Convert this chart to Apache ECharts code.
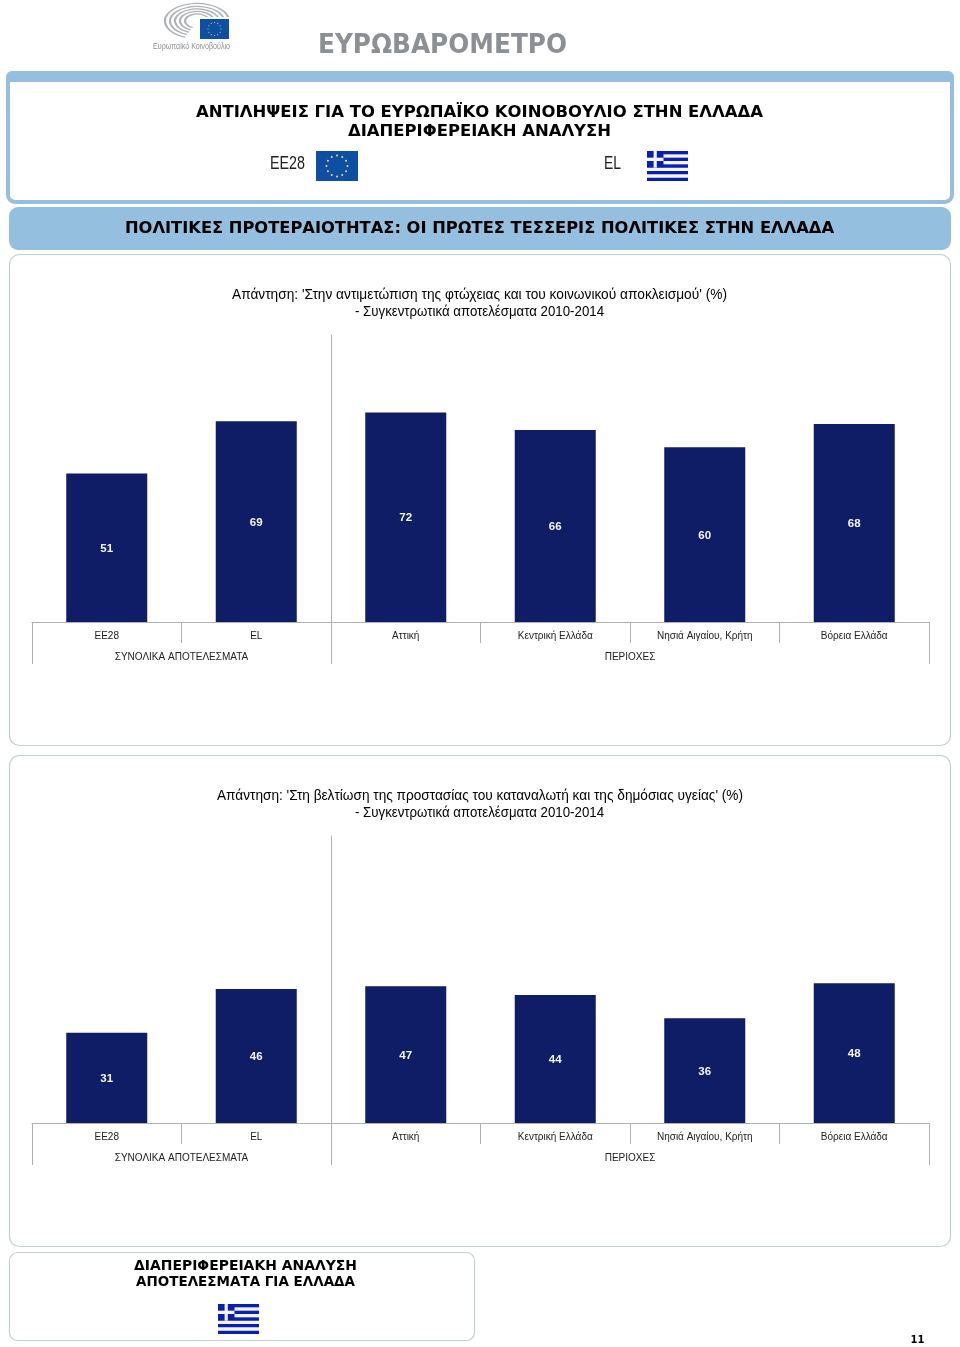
<!DOCTYPE html>
<html><head><meta charset="utf-8">
<style>html,body{margin:0;padding:0;background:#fff}#c{width:960px;height:1347px}</style>
<script src="https://cdn.jsdelivr.net/npm/echarts@6/dist/echarts.min.js"></script>
</head><body><div id="c"></div>
<script>
const categories = ['EE28','EL','Αττική','Κεντρική Ελλάδα','Νησιά Αιγαίου, Κρήτη','Βόρεια Ελλάδα'];
const povertyValues = [51,69,72,66,60,68];
const consumerValues = [31,46,47,44,36,48];
const groupLabels = {1:'ΣΥΝΟΛΙΚΑ ΑΠΟΤΕΛΕΣΜΑΤΑ',4:'ΠΕΡΙΟΧΕΣ'};
const groupBounds = [0,2,6];
const headerTitle = ['ΑΝΤΙΛΗΨΕΙΣ ΓΙΑ ΤΟ ΕΥΡΩΠΑΪΚΟ ΚΟΙΝΟΒΟΥΛΙΟ ΣΤΗΝ ΕΛΛΑΔΑ','ΔΙΑΠΕΡΙΦΕΡΕΙΑΚΗ ΑΝΑΛΥΣΗ'];
const subTitle = 'ΠΟΛΙΤΙΚΕΣ ΠΡΟΤΕΡΑΙΟΤΗΤΑΣ: ΟΙ ΠΡΩΤΕΣ ΤΕΣΣΕΡΙΣ ΠΟΛΙΤΙΚΕΣ ΣΤΗΝ ΕΛΛΑΔΑ';
const chart1Title = ["Απάντηση: 'Στην αντιμετώπιση της φτώχειας και του κοινωνικού αποκλεισμού' (%)",'- Συγκεντρωτικά αποτελέσματα 2010-2014'];
const chart2Title = ["Απάντηση: 'Στη βελτίωση της προστασίας του καταναλωτή και της δημόσιας υγείας' (%)",'- Συγκεντρωτικά αποτελέσματα 2010-2014'];
const footerTitle = ['ΔΙΑΠΕΡΙΦΕΡΕΙΑΚΗ ΑΝΑΛΥΣΗ','ΑΠΟΤΕΛΕΣΜΑΤΑ ΓΙΑ ΕΛΛΑΔΑ'];

const SANS='"Liberation Sans",Arial,sans-serif';
const WIDE='"DejaVu Sans",sans-serif';
const BLUE='#94bfdf', AXIS='#adb2b3', BAR='#0f1c66', EDGE='#c3d0d0';
const g=[];
const mc=document.createElement('canvas').getContext('2d');
function txt(x,y,t,font,size,weight,fill,target){
  const f=`${weight||'normal'} ${size}px ${font}`;
  mc.font=f; const sx=target?target/mc.measureText(t).width:1;
  g.push({type:'text',x,y,originX:0,originY:0,scaleX:sx,z:5,style:{text:t,font:f,fill:fill||'#000',textAlign:'center',textVerticalAlign:'middle'}});
}
function rect(x,y,w,h,fill){g.push({type:'rect',z:4,shape:{x,y,width:w,height:h},style:{fill}});}
function panel(x,y,w,h,fill,r,stroke,lw){g.push({type:'rect',z:-1,shape:{x,y,width:w,height:h,r},style:{fill,stroke:stroke||null,lineWidth:lw||0}});}
function greek(x,y){
  const w=41,h=30,s=h/9;
  rect(x,y,w,h,'#0a1fb0');
  for(let i=1;i<9;i+=2) rect(x+(i<5?16.5:0),y+i*s,i<5?w-16.5:w,s,'#f4f5fb');
  rect(x+6.6,y,3.2,s*5,'#f4f5fb'); rect(x,y+2*s,16.5,s,'#f4f5fb');
}
function eu(x,y,w,h,cx,cy,rad,sz){
  rect(x,y,w,h,'#0e4fa3');
  for(let i=0;i<12;i++){const a=i*Math.PI/6;
    g.push({type:'circle',z:5,shape:{cx:cx+rad*Math.cos(a),cy:cy+rad*Math.sin(a),r:sz},style:{fill:'#e6e27a'}});}
}
// panels
panel(8,73,944,129,'#fff',7,BLUE,4);
g.push({type:'rect',z:-1,shape:{x:6,y:71,width:948,height:11,r:[6,6,0,0]},style:{fill:BLUE}});
panel(9,207,942,43,BLUE,9);
panel(9.5,254.5,941,491,'#fff',10,EDGE,1.2);
panel(9.5,755.5,941,491,'#fff',10,EDGE,1.2);
panel(9.5,1252.5,465,88,'#fff',8,EDGE,1.2);
// logo
[[32,17.5],[27,14.5],[22,12],[17,9.5],[12,7]].forEach(([rx,ry])=>{
  g.push({type:'arc',z:3,x:197,y:21,originX:0,originY:0,scaleY:ry/rx,
    shape:{cx:0,cy:0,r:rx,startAngle:Math.PI*0.62,endAngle:Math.PI*2},style:{stroke:'#adb2b6',lineWidth:2.2,fill:null}});
});
rect(197,17,35,24,'#fff');
eu(200,19,29,20,214.5,29,6.5,0.6);
txt(191.5,46.5,'Ευρωπαϊκό Κοινοβούλιο',SANS,9,'normal','#8b8f92',77);
txt(442.5,46.5,'ΕΥΡΩΒΑΡΟΜΕΤΡΟ',WIDE,26,'bold','#8c9094',249);
txt(479.5,113,headerTitle[0],WIDE,16,'bold','#000',567);
txt(479.5,132,headerTitle[1],WIDE,16,'bold','#000',263);
txt(287.5,164,'EE28',SANS,18,'normal','#222',35);
eu(316,151,42,30,337,166,10.5,1);
txt(612.5,164,'EL',SANS,18,'normal','#222',17);
greek(647,151);
txt(479.5,229,subTitle,WIDE,16,'bold','#000',709);
txt(479.5,295,chart1Title[0],SANS,15,'normal','#000',495);
txt(479.5,312,chart1Title[1],SANS,15,'normal','#000',249);
txt(480,796,chart2Title[0],SANS,15,'normal','#000',526);
txt(479.5,813,chart2Title[1],SANS,15,'normal','#000',249);
txt(245.5,1266,footerTitle[0],WIDE,14,'bold','#000',223);
txt(245.5,1282,footerTitle[1],WIDE,14,'bold','#000',219);
greek(218,1304);
txt(917.5,1340,'11',WIDE,10,'bold');

const grids=[{left:32,width:897,top:335,height:287},{left:32,width:897,top:836,height:287}];
const xAxis=[],yAxis=[],series=[];
[povertyValues,consumerValues].forEach((vals,k)=>{
  xAxis.push({type:'category',gridIndex:k,data:categories,position:'bottom',
    axisLine:{lineStyle:{color:AXIS,width:1}},
    axisTick:{show:true,length:21,lineStyle:{color:AXIS,width:1}},
    axisLabel:{color:'#222',fontFamily:SANS,fontSize:10,margin:9,interval:0}});
  xAxis.push({type:'value',gridIndex:k,min:0,max:6,position:'bottom',
    axisLine:{show:false},splitLine:{show:false},
    axisTick:{show:true,length:42,customValues:groupBounds,lineStyle:{color:AXIS,width:1}},
    axisLabel:{show:true,customValues:[1,4],formatter:v=>groupLabels[v]||'',color:'#222',fontFamily:SANS,fontSize:10,margin:30}});
  yAxis.push({type:'value',gridIndex:k,min:0,max:98.6,position:'left',offset:-299,
    axisLine:{show:true,lineStyle:{color:AXIS,width:1}},axisTick:{show:false},axisLabel:{show:false},splitLine:{show:false}});
  series.push({type:'bar',xAxisIndex:k*2,yAxisIndex:k,data:vals,barWidth:81,
    itemStyle:{color:BAR},
    label:{show:true,position:'inside',offset:[0,1],color:'#f4f6ff',fontFamily:SANS,fontWeight:'bold',fontSize:11.5}});
});
const chart=echarts.init(document.getElementById('c'),null,{renderer:'canvas',width:960,height:1347});
chart.setOption({animation:false,backgroundColor:'#fff',graphic:{elements:g},grid:grids,xAxis,yAxis,series});
</script></body></html>
